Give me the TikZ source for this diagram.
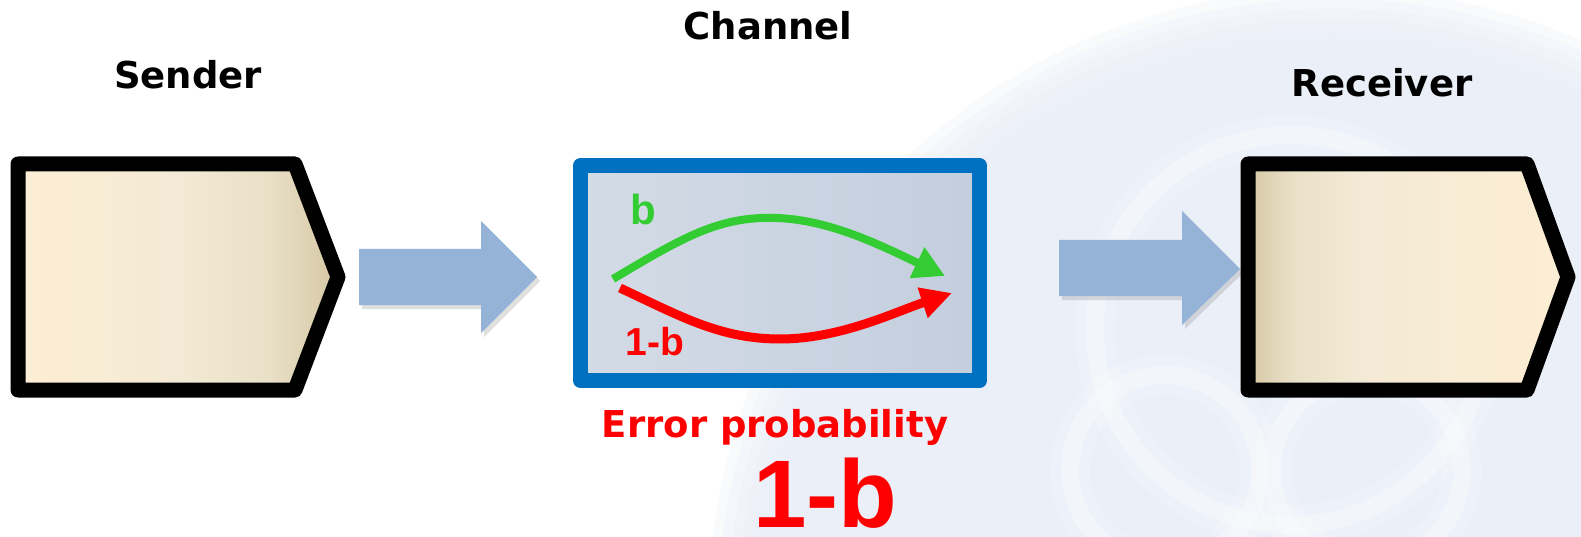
\documentclass[tikz,border=0pt]{standalone}
\usepackage{fontspec}
\setmainfont{DejaVu Sans}
\newfontfamily\arialfont{Liberation Sans}
\usetikzlibrary{arrows.meta,shadows}
\definecolor{bgblue}{HTML}{EAEFF8}
\definecolor{fatarrow}{HTML}{95B3D7}
\definecolor{chanblue}{HTML}{0070C0}
\definecolor{chanL}{HTML}{D3DBE5}
\definecolor{chanR}{HTML}{C3CEDE}
\definecolor{gArrow}{HTML}{33CC33}
\definecolor{rArrow}{HTML}{FF0000}
\definecolor{creamA}{HTML}{FDEED4}
\definecolor{creamB}{HTML}{F3EAD5}
\definecolor{creamC}{HTML}{E9E0C8}
\definecolor{creamD}{HTML}{D6C8A4}
\pgfdeclarehorizontalshading{senderfill}{100bp}{color(0bp)=(creamA); color(25bp)=(creamA); color(50bp)=(creamB); color(64bp)=(creamC); color(75bp)=(creamD); color(100bp)=(creamD)}
\pgfdeclarehorizontalshading{receiverfill}{100bp}{color(0bp)=(creamD); color(25bp)=(creamD); color(32bp)=(creamC); color(42bp)=(creamB); color(75bp)=(creamA); color(100bp)=(creamA)}
\tikzset{
  heading/.style={font=\fontsize{37}{40}\selectfont\bfseries, anchor=base, inner sep=0pt},
  redheading/.style={heading, text=rArrow},
  blockbox/.style={draw=black, line width=15pt, line join=round,
     drop shadow={shadow xshift=3pt, shadow yshift=-3pt, opacity=0.3}},
  fatarrowshape/.style={fill=fatarrow, drop shadow={shadow xshift=3pt, shadow yshift=-4pt, opacity=0.25}},
  chanbox/.style={draw=chanblue, line width=15pt, line join=round, left color=chanL, right color=chanR,
     drop shadow={shadow xshift=3pt, shadow yshift=-3pt, opacity=0.3}},
  goodpath/.style={draw=gArrow, line width=8pt, -{Triangle[length=31pt,width=32pt]}},
  badpath/.style={draw=rArrow, line width=9pt, -{Triangle[length=31pt,width=30pt]}},
  ghostwide/.style={draw=white, line width=40pt, opacity=0.18},
  ghost/.style={draw=white, line width=18pt, opacity=0.3}
}
\begin{document}
\begin{tikzpicture}[x=1pt,y=-1pt]
\useasboundingbox (0,0) rectangle (1581,537);
\fill[white] (0,0) rectangle (1581,537);
% faint background
\begin{scope}
\clip (0,0) rectangle (1581,537);
\foreach \r in {625,615,605,595,585,575} {\fill[bgblue,opacity=0.3] (1333,614) circle (\r pt);}
\fill[bgblue] (1333,614) circle (565pt);
\foreach \c/\rr in {{(1290,330)}/195, {(1165,470)}/95, {(1367,470)}/95} {
  \draw[ghostwide] \c circle (\rr pt);
  \draw[ghost] \c circle (\rr pt);
}
\end{scope}

% titles
\node[heading] (tchan) at (768,40) {Channel};
\node[heading] (tsend) at (188,89) {Sender};
\node[heading] (trecv) at (1382,97) {Receiver};

% sender block
\path[blockbox, shading=senderfill] (18,164) -- (295,164) -- (338,277) -- (295,390) -- (18,390) -- cycle;

% arrow 1
\path[fatarrowshape] (359,249) -- (481,249) -- (481,221) -- (537,277) -- (481,333) -- (481,305) -- (359,305) -- cycle;

% channel block
\path[chanbox] (580.5,165.5) rectangle (979.5,380.5);
\coordinate (g0) at (613,279);
\coordinate (gp) at (777,218);
\coordinate (g1) at (945,276);
\coordinate (r0) at (620,288);
\coordinate (rp) at (780,339);
\coordinate (r1) at (952,293);
\draw[goodpath] (g0) .. controls (685,236) and (720,216) .. (gp) .. controls (830,220) and (880,245) .. (g1);
\draw[badpath] (r0) .. controls (680,316) and (720,339) .. (rp) .. controls (840,339) and (895,312) .. (r1);
\node[anchor=base, inner sep=0pt, text=gArrow, font=\arialfont\bfseries\fontsize{42}{44}\selectfont] (lb) at (643,225) {b};
\node[anchor=base, inner sep=0pt, text=rArrow, font=\arialfont\bfseries\fontsize{39}{42}\selectfont] (l1b) at (655,355) {1-b};

% arrow 2
\path[fatarrowshape] (1059,240) -- (1182,240) -- (1182,211) -- (1240,269) -- (1182,325) -- (1182,296) -- (1059,296) -- cycle;

% receiver block
\path[blockbox, shading=receiverfill] (1248,164) -- (1527,164) -- (1568,277) -- (1527,390) -- (1248,390) -- cycle;

% error probability
\node[redheading] (terr) at (775,437) {Error probability};
\node[anchor=base, inner sep=0pt, text depth=0pt, text=rArrow, font=\arialfont\bfseries\fontsize{96}{100}\selectfont] (tbig) at (825,527) {1-b};
\end{tikzpicture}
\end{document}
